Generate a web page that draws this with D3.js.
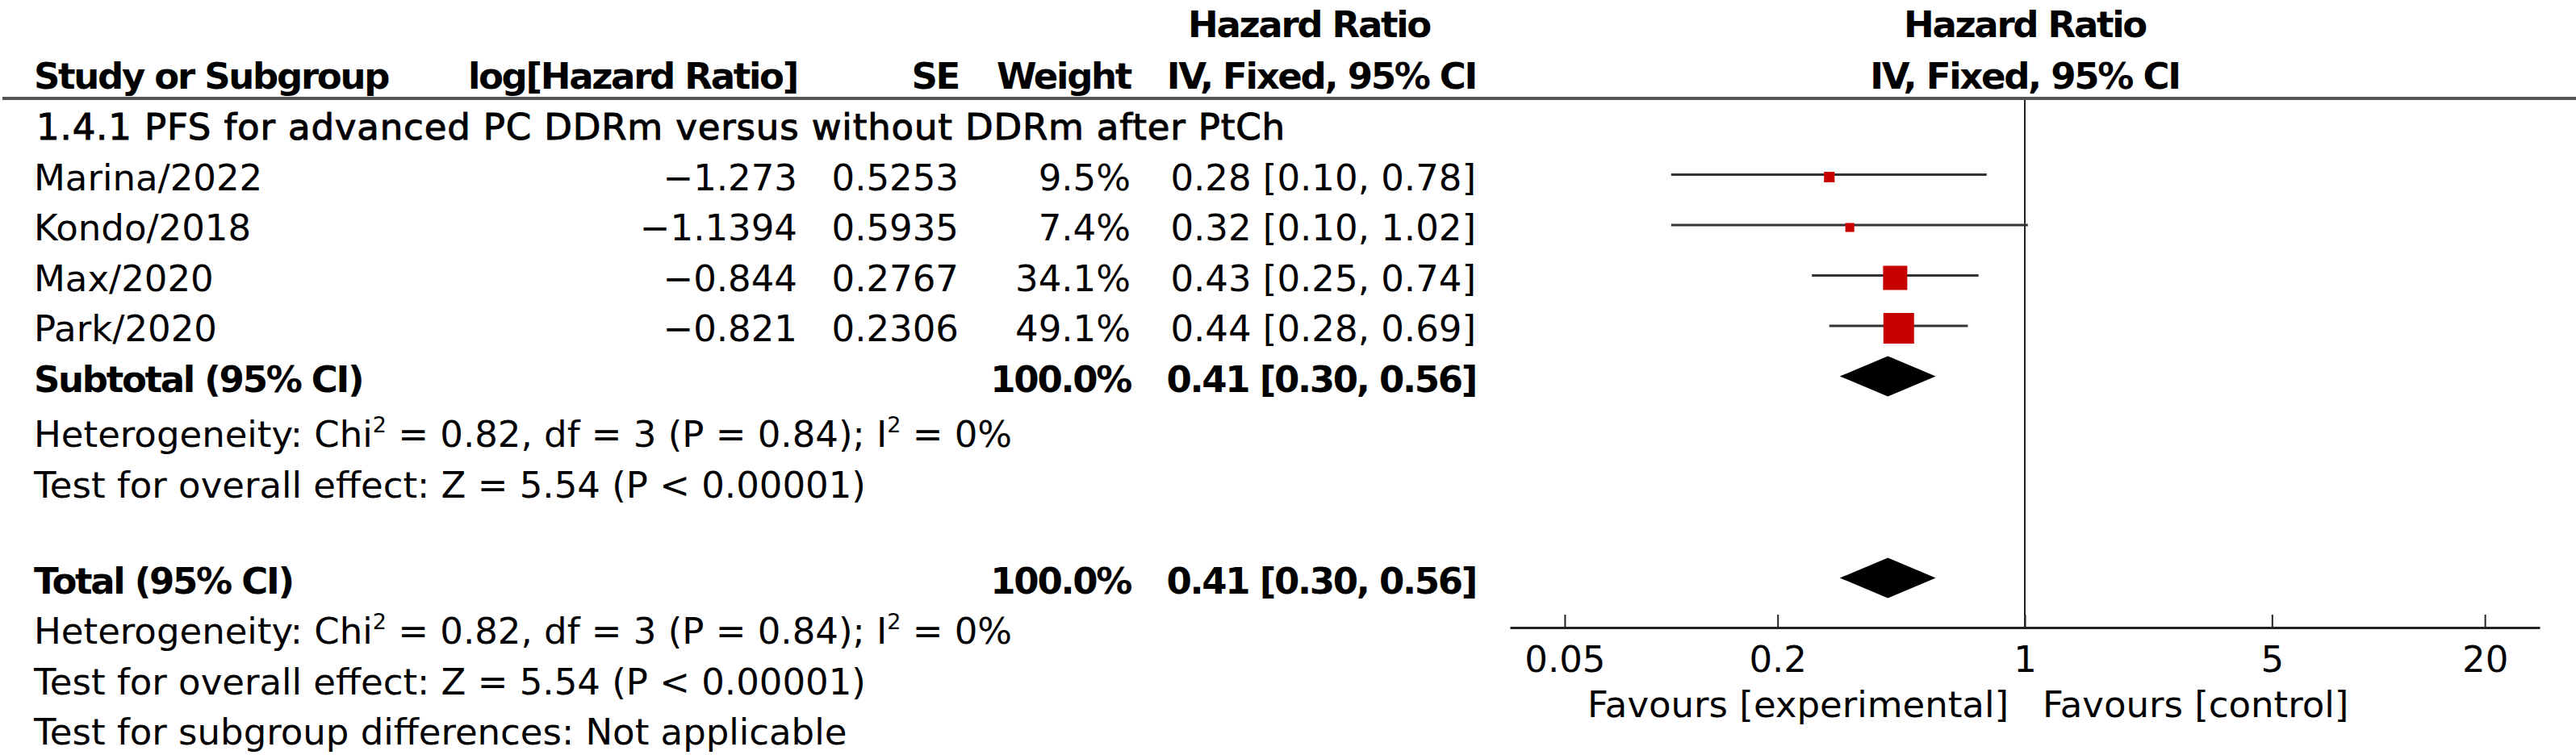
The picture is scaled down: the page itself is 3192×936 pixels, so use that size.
<!DOCTYPE html>
<html>
<head>
<meta charset="utf-8">
<script src="https://cdn.jsdelivr.net/npm/d3@7"></script>
<style>
  html, body { margin: 0; padding: 0; background: #fff; }
  svg { display: block; }
  text { font-family: "DejaVu Sans", Verdana, sans-serif; fill: #000; }
</style>
</head>
<body>
<svg id="chart" width="3192" height="936"></svg>
<script>
// ---------- data ----------
const studies   = ["Marina/2022", "Kondo/2018", "Max/2020", "Park/2020"];
const logHR     = [-1.273, -1.1394, -0.844, -0.821];
const seLog     = [0.5253, 0.5935, 0.2767, 0.2306];
const weights   = [9.5, 7.4, 34.1, 49.1];
const hr        = [0.28, 0.32, 0.43, 0.44];
const ciLow     = [0.10, 0.10, 0.25, 0.28];
const ciHigh    = [0.78, 1.02, 0.74, 0.69];

const subgroupTitle = "1.4.1 PFS for advanced PC DDRm versus without DDRm after PtCh";
const pooledHR   = [0.41, 0.41];        // subtotal, total
const pooledLow  = [0.30, 0.30];
const pooledHigh = [0.56, 0.56];
const pooledWeight = ["100.0%", "100.0%"];
const pooledLabels = ["Subtotal (95% CI)", "Total (95% CI)"];

const axisTicks  = [0.05, 0.2, 1, 5, 20];
const favourLeft = "Favours [experimental]";
const favourRight = "Favours [control]";

// ---------- layout ----------
const W = 3192, H = 936;
const FS = 45, FSB = 45;
const svg = d3.select("#chart");
const f2 = d3.format(".2f");
const minus = s => s.replace("-", "\u2212");

const colX = { name: 42, logHR: 988, se: 1188, weight: 1401, ci: 1829 };
const x = d3.scaleLog().domain([0.035, 1 / 0.035]).range([1871, 3147]);
const rowY = d3.scaleLinear().domain([0, 1]).range([154, 216.5]); // row centre
const base = i => rowY(i) + 19;
const axisY = 778;
const ruleY = 122;
const size = d3.scalePow().exponent(0.65).domain([0, 49.1]).range([0, 38]);

function txt(xp, yp, s, anchor = "start", bold = false) {
  return svg.append("text").attr("x", xp).attr("y", yp)
    .attr("text-anchor", anchor)
    .attr("font-size", bold ? FSB : FS)
    .attr("font-weight", bold ? "bold" : "normal")
    .attr("letter-spacing", bold ? -2.3 : 0)
    .text(s);
}

// ---------- header ----------
txt(1622, 46, "Hazard Ratio", "middle", true);
txt(colX.ci, 110, "IV, Fixed, 95% CI", "end", true);
txt(x(1), 46, "Hazard Ratio", "middle", true);
txt(x(1), 110, "IV, Fixed, 95% CI", "middle", true);
txt(colX.name, 110, "Study or Subgroup", "start", true);
txt(colX.logHR, 110, "log[Hazard Ratio]", "end", true);
txt(colX.se, 110, "SE", "end", true);
txt(colX.weight, 110, "Weight", "end", true);

svg.append("line").attr("x1", 3).attr("x2", W).attr("y1", ruleY).attr("y2", ruleY)
  .attr("stroke", "#555").attr("stroke-width", 4);

// ---------- subgroup title (medium weight) ----------
txt(colX.name + 3, base(0), subgroupTitle, "start", false)
  .attr("letter-spacing", 0.85)
  .attr("stroke", "#000").attr("stroke-width", 1);

// ---------- null line ----------
svg.append("line").attr("x1", x(1)).attr("x2", x(1))
  .attr("y1", ruleY + 2).attr("y2", axisY)
  .attr("stroke", "#222").attr("stroke-width", 2);

// ---------- study rows ----------
const rows = studies.map((s, i) => ({
  name: s, logHR: logHR[i], se: seLog[i], w: weights[i],
  hr: hr[i], lo: ciLow[i], hi: ciHigh[i], row: i + 1
}));

const g = svg.append("g");
rows.forEach(d => {
  txt(colX.name, base(d.row), d.name);
  txt(colX.logHR, base(d.row), minus(String(d.logHR)), "end");
  txt(colX.se, base(d.row), String(d.se), "end");
  txt(colX.weight, base(d.row), d.w.toFixed(1) + "%", "end");
  txt(colX.ci, base(d.row), `${f2(d.hr)} [${f2(d.lo)}, ${f2(d.hi)}]`, "end");
});

g.selectAll("line.ci").data(rows).join("line").attr("class", "ci")
  .attr("x1", d => x(d.lo)).attr("x2", d => x(d.hi))
  .attr("y1", d => rowY(d.row)).attr("y2", d => rowY(d.row))
  .attr("stroke", "#333").attr("stroke-width", 3);

g.selectAll("rect.box").data(rows).join("rect").attr("class", "box")
  .attr("x", d => x(d.hr) - size(d.w) / 2)
  .attr("y", d => rowY(d.row) - size(d.w) / 2 + 3)
  .attr("width", d => size(d.w)).attr("height", d => size(d.w))
  .attr("fill", "#c80000");

// ---------- pooled rows ----------
const pooledRows = [5, 9];
const pooled = pooledRows.map((r, i) => ({
  row: r, label: pooledLabels[i], w: pooledWeight[i],
  hr: pooledHR[i], lo: pooledLow[i], hi: pooledHigh[i]
}));
pooled.forEach(d => {
  txt(colX.name, base(d.row), d.label, "start", true);
  txt(colX.weight, base(d.row), d.w, "end", true);
  txt(colX.ci, base(d.row), `${f2(d.hr)} [${f2(d.lo)}, ${f2(d.hi)}]`, "end", true);
});
const dh = 25;
svg.selectAll("path.diamond").data(pooled).join("path").attr("class", "diamond")
  .attr("d", d => {
    const c = rowY(d.row);
    return `M${x(d.lo)},${c} L${x(d.hr)},${c - dh} L${x(d.hi)},${c} L${x(d.hr)},${c + dh} Z`;
  })
  .attr("fill", "#000");

// ---------- statistics text ----------
function hetText(yb) {
  const t = svg.append("text").attr("x", colX.name).attr("y", yb).attr("font-size", FS);
  t.append("tspan").text("Heterogeneity: Chi");
  t.append("tspan").attr("font-size", 27).attr("dy", -18).text("2");
  t.append("tspan").attr("dy", 18).text(" = 0.82, df = 3 (P = 0.84); I");
  t.append("tspan").attr("font-size", 27).attr("dy", -18).text("2");
  t.append("tspan").attr("dy", 18).text(" = 0%");
}
hetText(base(6) + 6);
txt(colX.name, base(7) + 6, "Test for overall effect: Z = 5.54 (P < 0.00001)");
hetText(base(10));
txt(colX.name, base(11), "Test for overall effect: Z = 5.54 (P < 0.00001)");
txt(colX.name, base(12), "Test for subgroup differences: Not applicable");

// ---------- axis ----------
const axis = d3.axisBottom(x).tickValues(axisTicks)
  .tickFormat(d => String(d))
  .tickSizeInner(-16).tickSizeOuter(0).tickPadding(23);
const ag = svg.append("g").attr("transform", `translate(0,${axisY})`).call(axis);
ag.select(".domain").attr("stroke", "#222").attr("stroke-width", 3);
ag.selectAll(".tick line").attr("stroke", "#222").attr("stroke-width", 2);
ag.selectAll(".tick text").attr("font-size", FS).attr("font-family", "DejaVu Sans, Verdana, sans-serif").attr("fill", "#000");

txt(x(1) - 20, 889, favourLeft, "end");
txt(x(1) + 22, 889, favourRight, "start");
</script>
</body>
</html>
